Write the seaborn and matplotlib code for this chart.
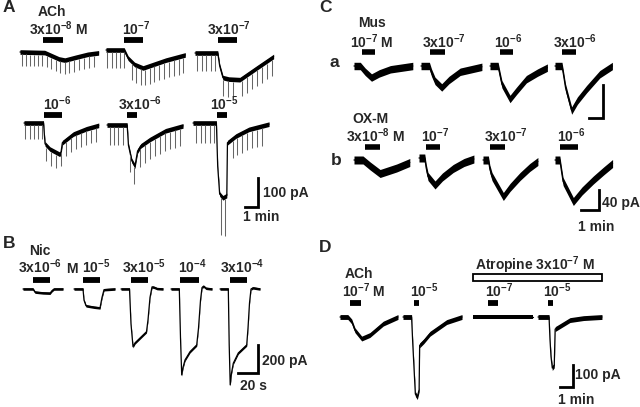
import numpy as np
import pandas as pd
import matplotlib
matplotlib.use("Agg")
import matplotlib.pyplot as plt
from matplotlib.patches import Rectangle
import seaborn as sns

# ---------------- data (time, current) ----------------
# Panel A : ACh, time in min, current in pA (relative to baseline)
a1_t = [0, 1.9, 2.4, 3.0, 3.45, 4.3, 5.2, 6.05]
a1_pa = [0, -2, -12, -24, -28, -18, -8, -3]
a2_t = [0, 1.4, 1.7, 2.2, 2.85, 3.5, 4.6, 6.1]
a2_pa = [0, 0, -28, -50, -62, -52, -35, -17]
a3_t = [0, 1.75, 1.9, 2.15, 2.6, 3.45, 4.74, 6.05]
a3_pa = [0, 0, -45, -85, -90, -92, -52, -12]
a4_t = [0, 1.5, 1.62, 2.0, 2.75, 2.85, 2.95, 3.8, 4.8, 5.75]
a4_pa = [0, 0, -72, -90, -108, -100, -68, -38, -20, -8]
a5_t = [0, 1.55, 1.65, 1.9, 2.15, 2.35, 2.6, 3.3, 4.5, 5.85]
a5_pa = [0, 0, -70, -122, -142, -90, -72, -50, -20, -3]
a6_t = [0, 1.8, 1.9, 2.05, 2.3, 2.6, 2.65, 3.3, 4.3, 5.85]
a6_pa = [0, 0, -150, -245, -258, -250, -68, -45, -22, -4]
A_bars = [(1.77, 3.3), (1.38, 2.85), (1.77, 3.23), (1.54, 2.92), (1.54, 2.31), (1.85, 2.62)]
A_labels = ["3x10$^{-8}$ M", "10$^{-7}$", "3x10$^{-7}$", "10$^{-6}$", "3x10$^{-6}$", "10$^{-5}$"]
# spontaneous synaptic currents (times, min) and their depth (pA)
a1_spk = [0.18, 0.46, 0.77, 1.08, 1.36, 1.67, 2.05, 2.38, 2.75, 3.08, 3.46, 3.79, 4.18, 4.54, 4.92, 5.31, 5.69]
a2_spk = [0.1, 0.44, 0.77, 1.08, 1.38, 1.98, 2.3, 2.67, 3.0, 3.38, 3.72, 4.1, 4.46, 4.85, 5.23, 5.6, 5.95]
a3_spk = [0.18, 0.51, 0.85, 1.2, 1.54, 2.18, 2.56, 2.95, 3.59, 3.97, 4.36, 4.74, 5.13, 5.51, 5.9]
a4_spk = [0.1, 0.44, 0.77, 1.08, 1.38, 1.72, 2.1, 2.48, 2.87, 3.25, 3.64, 4.02, 4.41, 4.79, 5.18, 5.56]
a5_spk = [0.23, 0.54, 0.87, 1.21, 1.77, 2.08, 2.54, 2.92, 3.31, 3.69, 4.08, 4.46, 4.85, 5.23, 5.62]
a6_spk = [0.26, 0.59, 0.95, 1.28, 1.62, 2.18, 2.49, 3.08, 3.41, 3.77, 4.15, 4.54, 4.92, 5.31]
A_spk_depth = [48, 62, 62, 55, 68, 68]
a6_spk_depth = [68, 68, 68, 68, 68, 135, 135, 68, 68, 68, 68, 68, 68, 68]

# Panel B : nicotine, time in s, current in pA
b1_t = [0, 10, 12, 20, 27, 29, 31, 40]
b1_pa = [0, 0, -22, -28, -30, -12, 0, 0]
b2_t = [0, 9, 10, 12, 20, 26, 28, 30, 41]
b2_pa = [0, 0, -80, -120, -130, -135, -60, -5, 0]
b3_t = [0, 8.5, 10, 12, 14, 25.5, 27, 29, 31, 33, 36, 42]
b3_pa = [0, 0, -250, -412, -385, -305, -220, -60, 15, 12, 3, 0]
b4_t = [0, 8.3, 9.5, 10.7, 12, 14, 19, 25.7, 27.5, 29.5, 31, 32.5, 35, 41]
b4_pa = [0, 0, -350, -614, -560, -507, -448, -400, -280, -80, 10, 20, 5, 0]
b5_t = [0, 8.3, 9.2, 10.2, 11.5, 13.3, 18.3, 26.7, 28, 29.5, 31, 33, 40]
b5_pa = [0, 0, -400, -685, -600, -530, -457, -400, -280, -100, 0, 8, 0]
B_bars = [(10, 27), (9, 26), (10, 27), (9.3, 27.6), (10, 27.3)]
B_labels = ["3x10$^{-6}$", "10$^{-5}$", "3x10$^{-5}$", "10$^{-4}$", "3x10$^{-4}$"]

# Panel C a : muscarine, time in min, current in pA
ca1_t = [0, 0.45, 0.8, 1.25, 1.8, 2.6, 4.2]
ca1_pa = [0, 0, -7, -14, -9, -4, 0]
ca2_t = [0, 0.6, 0.75, 1.0, 1.48, 2.0, 2.8, 4.35]
ca2_pa = [0, 0, -8, -18, -26, -17, -7, -1]
ca3_t = [0, 0.58, 0.7, 0.85, 1.43, 1.9, 2.6, 3.4, 4.1]
ca3_pa = [0, 0, -10, -22, -40, -30, -16, -8, -2]
ca4_t = [0, 0.5, 0.62, 0.75, 1.19, 1.6, 2.26, 3.2, 4.1]
ca4_pa = [0, 0, -12, -26, -54, -42, -28, -10, 0]
Ca_bars = [(0.57, 1.5), (0.64, 1.71), (0.71, 1.64), (0.5, 1.5)]
Ca_labels = ["10$^{-7}$ M", "3x10$^{-7}$", "10$^{-6}$", "3x10$^{-6}$"]

# Panel C b : oxotremorine-M
cb1_t = [0, 0.5, 0.9, 1.45, 2.37, 3.1]
cb1_pa = [0, 0, -12, -27, -16, -5]
cb2_t = [0, 0.32, 0.4, 0.5, 0.89, 1.3, 1.9, 2.5, 3.05]
cb2_pa = [0, 0, -20, -37, -54, -38, -21, -9, -2]
cb3_t = [0, 0.3, 0.38, 0.5, 1.13, 1.5, 2.06, 2.6, 3.05]
cb3_pa = [0, 0, -18, -33, -73, -55, -33, -15, -3]
cb4_t = [0, 0.27, 0.35, 0.45, 1.02, 1.5, 2.13, 2.7, 3.2]
cb4_pa = [0, 0, -20, -43, -83, -62, -40, -22, -7]
Cb_bars = [(0.6, 1.45), (0.39, 1.17), (0.39, 1.22), (0.28, 1.28)]
Cb_labels = ["3x10$^{-8}$ M", "10$^{-7}$", "3x10$^{-7}$", "10$^{-6}$"]

# Panel D : ACh with / without atropine
d1_t = [0, 0.6, 0.9, 1.15, 1.67, 2.3, 3.33, 4.46]
d1_pa = [0, 0, -20, -60, -98, -82, -30, 0]
d2_t = [0, 0.66, 0.75, 0.95, 1.1, 1.24, 1.28, 1.6, 2.08, 3.36, 4.54]
d2_pa = [0, 0, -120, -350, -364, -330, -129, -110, -76, -23, 0]
d3_t = [0, 4.6]
d3_pa = [0, 0]
d4_t = [0, 0.85, 0.92, 1.0, 1.1, 1.25, 1.32, 1.6, 2.46, 3.5, 4.92]
d4_pa = [0, 0, -100, -180, -232, -220, -55, -45, -14, -5, 0]
D_bars = [(0.77, 1.62), (0.85, 1.23), (1.15, 1.92), (0.77, 1.15)]
D_labels = ["10$^{-7}$ M", "10$^{-5}$", "10$^{-7}$", "10$^{-5}$"]
atropine_period = (0, 9.9)   # min, relative to start of 3rd trace

# noise half-widths (pA)
A_noise, B_noise, Ca_noise, Cb_noise, D_noise = 8, 9, 4.5, 8, 11

# ---------------- style ----------------
sns.set_theme(style="white")
plt.rcParams["font.family"] = ["Liberation Sans", "DejaVu Sans"]
plt.rcParams["font.weight"] = "bold"
plt.rcParams["mathtext.default"] = "regular"

W, H = 640, 407
fig = plt.figure(figsize=(6.4, 4.07), dpi=100)
_limits = []


def px_axes(x0, y0, sx, sy, box):
    """axes whose data origin sits at pixel (x0, y0) with sx px/unit, sy px/unit"""
    l, t, r, b = box
    ax = fig.add_axes([l / W, 1 - b / H, (r - l) / W, (b - t) / H])
    ax.patch.set_alpha(0)
    _limits.append((ax, ((l - x0) / sx, (r - x0) / sx), ((y0 - b) / sy, (y0 - t) / sy)))
    return ax


def draw_trace(left, base, sx, sy, t, pa, noise, bar, bar_px, top, bottom,
               spikes=None, depth=None, bar_lw=4.2):
    t = np.asarray(t, float)
    pa = np.asarray(pa, float)
    ax = px_axes(left, base, sx, sy, (left - 4, top, left + t.max() * sx + 4, bottom))
    ax.fill_between(t, pa - noise, pa + noise, color="black", lw=0)
    df = pd.DataFrame({"t": t, "I": pa})
    sns.lineplot(data=df, x="t", y="I", ax=ax, color="black", lw=0.9, legend=False)
    if spikes is not None:
        st = np.asarray(spikes, float)
        at = np.interp(st, t, pa)
        ax.vlines(st, at - np.asarray(depth, float), at - noise, color="0.4", lw=0.75)
    yb = (base - bar_px) / sy
    ax.plot(bar, [yb, yb], color="black", lw=bar_lw, solid_capstyle="butt")
    return ax


def scale_bar(cx, cy, sx, sy, xlen, ylen):
    ax = px_axes(cx, cy, sx, sy, (cx - xlen * sx - 6, cy - ylen * sy - 6, cx + 6, cy + 6))
    ax.plot([-xlen, 0, 0], [0, 0, ylen], color="black", lw=2.0,
            solid_joinstyle="miter", solid_capstyle="projecting")


def ftext(x, y, s, size=10, ha="center", va="baseline"):
    fig.text(x / W, 1 - y / H, s, fontsize=size, fontweight="bold", ha=ha, va=va,
             family=["Liberation Sans", "DejaVu Sans"])


# ---------------- Panel A ----------------
sxA, syA = 13, 0.29
A_traces = [(a1_t, a1_pa, a1_spk), (a2_t, a2_pa, a2_spk), (a3_t, a3_pa, a3_spk),
            (a4_t, a4_pa, a4_spk), (a5_t, a5_pa, a5_spk), (a6_t, a6_pa, a6_spk)]
A_left = [20, 106, 195, 24, 107, 193]
A_base = [52, 50, 53, 123, 125, 123]
A_barpx = [40, 40, 40, 115, 115, 115]
for k, (t, pa, spk) in enumerate(A_traces):
    dep = a6_spk_depth if k == 5 else [A_spk_depth[k]] * len(spk)
    draw_trace(A_left[k], A_base[k], sxA, syA, t, pa, A_noise, A_bars[k], A_barpx[k],
               0, 245, spikes=spk, depth=dep)
A_lab_xy = [(58, 35), (136, 35), (229, 35), (57, 110), (140, 110), (224, 110)]
for (x, y), s in zip(A_lab_xy, A_labels):
    ftext(x, y, s)
ftext(52, 16.5, "ACh")
scale_bar(258, 207, sxA, syA, 1, 100)
ftext(263, 193, "100 pA", ha="left", va="center")
ftext(261, 217, "1 min", va="center")

# ---------------- Panel B ----------------
sxB, syB = 1.0, 0.14
B_traces = [(b1_t, b1_pa), (b2_t, b2_pa), (b3_t, b3_pa), (b4_t, b4_pa), (b5_t, b5_pa)]
B_left = [23, 74, 121, 171, 220]
for k, (t, pa) in enumerate(B_traces):
    draw_trace(B_left[k], 289, sxB, syB, t, pa, B_noise, B_bars[k], 280, 250, 400)
B_lab_x = [40, 96, 144, 192, 242]
for x, s in zip(B_lab_x, B_labels):
    ftext(x, 273, s)
ftext(72, 273, "M")
ftext(40, 255, "Nic")
scale_bar(258, 373, sxB, syB, 20, 200)
ftext(262, 361, "200 pA", ha="left", va="center")
ftext(253, 386, "20 s", va="center")

# ---------------- Panel C ----------------
sxCa, syCa = 14, 0.825
Ca_traces = [(ca1_t, ca1_pa), (ca2_t, ca2_pa), (ca3_t, ca3_pa), (ca4_t, ca4_pa)]
Ca_left = [354, 421, 490, 555]
for k, (t, pa) in enumerate(Ca_traces):
    draw_trace(Ca_left[k], 66, sxCa, syCa, t, pa, Ca_noise, Ca_bars[k], 52, 30, 125, bar_lw=4.0)
for x, s in zip([372, 444, 508, 575], Ca_labels):
    ftext(x, 48, s)
ftext(372, 27, "Mus")
ftext(334, 67, "a", size=12.5)
scale_bar(603, 118, sxCa, syCa, 1, 40)

sxCb, syCb = 18, 0.5
Cb_traces = [(cb1_t, cb1_pa), (cb2_t, cb2_pa), (cb3_t, cb3_pa), (cb4_t, cb4_pa)]
Cb_left = [354, 419, 483, 555]
Cb_base = [160, 158, 160, 160]
for k, (t, pa) in enumerate(Cb_traces):
    draw_trace(Cb_left[k], Cb_base[k], sxCb, syCb, t, pa, Cb_noise, Cb_bars[k], 147, 125, 215, bar_lw=4.0)
for x, s in zip([375, 435, 506, 571], Cb_labels):
    ftext(x, 142, s)
ftext(370, 123.5, "OX-M")
ftext(336, 165, "b", size=12.5)
scale_bar(599, 210, sxCb, syCb, 1, 40)
ftext(602, 203, "40 pA", ha="left", va="center")
ftext(596, 227, "1 min", va="center")

# ---------------- Panel D ----------------
sxD, syD = 13, 0.22
D_traces = [(d1_t, d1_pa), (d2_t, d2_pa), (d3_t, d3_pa), (d4_t, d4_pa)]
D_left = [340, 403, 473, 538]
axD = []
for k, (t, pa) in enumerate(D_traces):
    axD.append(draw_trace(D_left[k], 317, sxD, syD, t, pa, D_noise, D_bars[k], 303, 260, 405))
y_top = (317 - 273.5) / syD
y_bot = (317 - 281) / syD
axD[2].add_patch(Rectangle((atropine_period[0], y_bot), atropine_period[1] - atropine_period[0],
                           y_top - y_bot, fill=False, edgecolor="black", lw=1.3, clip_on=False))
for x, s in zip([364, 424, 499, 557], D_labels):
    ftext(x, 296.5, s)
ftext(359, 277.5, "ACh")
ftext(535, 270, "Atropine 3x10$^{-7}$ M")
scale_bar(573, 387, sxD, syD, 1, 100)
ftext(575, 375, "100 pA", ha="left", va="center")
ftext(576, 400, "1 min", va="center")

# panel letters
ftext(9, 8, "A", size=12.5, va="center")
ftext(9, 243, "B", size=12.5, va="center")
ftext(326, 8, "C", size=12.5, va="center")
ftext(325, 247, "D", size=12.5, va="center")

for ax, xl, yl in _limits:
    ax.set_xlim(*xl)
    ax.set_ylim(*yl)
    ax.axis("off")

fig.savefig("out.png", dpi=100)
